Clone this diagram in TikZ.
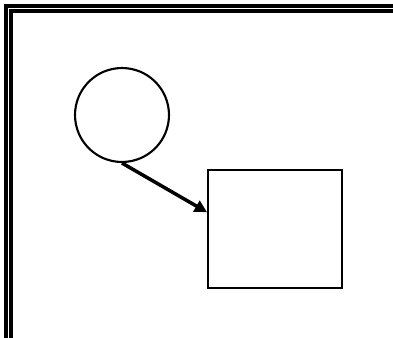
\documentclass[tikz,border=0pt]{standalone}
\usepackage{tikz}
\usetikzlibrary{positioning}
\usetikzlibrary{arrows.meta}
\usetikzlibrary{calc}
\tikzset{frame/.style = {double, double distance = 1pt, line width = 2.3pt}}
\tikzset{blob/.style = {draw, circle, line width = 1.2pt, minimum size = 1.88cm, inner sep = 0}}
\tikzset{box/.style = {draw, rectangle, line width = 1.1pt, minimum width = 2.68cm, minimum height = 2.36cm, inner sep = 0}}

\begin{document}
\begin{tikzpicture}[x=0.02cm, y=-0.02cm]
    \useasboundingbox (0,0) rectangle (393,338);
    \coordinate (fb) at (8.5,340);
    \coordinate (fc) at (8.5,8.5);
    \coordinate (fr) at (395,8.5);
    \draw[frame] (fb) -- (fc) -- (fr);
    \node[blob] (circ) at (122,115) {};
    \node[box] (rect) at (275,229) {};
    % arrow hits the box above its middle
    \coordinate (hit) at ($(rect.north west)!0.36!(rect.south west)$);
    \draw[line width = 2pt, -{Triangle[length=7pt, width=7pt]}] (circ.south) -- (hit);
  \end{tikzpicture}
\end{document}
